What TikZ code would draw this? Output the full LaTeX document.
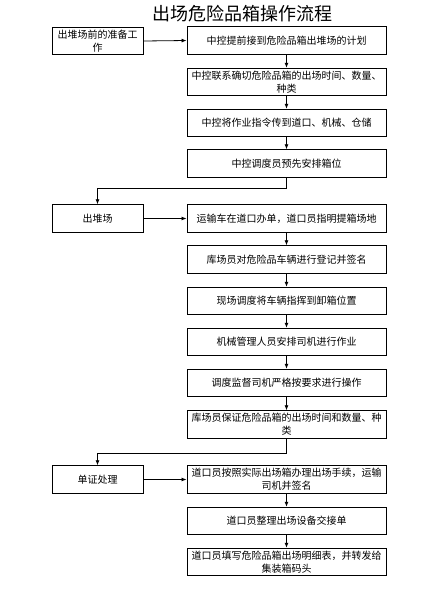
\documentclass[tikz,border=0pt]{standalone}
\usepackage{fontspec}
\newfontfamily\cjk{Noto Sans CJK SC}
\usetikzlibrary{arrows.meta, positioning}

\begin{document}
\begin{tikzpicture}[
  x=1pt, y=-1pt,
  font=\cjk\fontsize{10}{13.3}\selectfont,
  blocco/.style={draw=black, line width=0.9pt, fill=white, align=center,
                 inner sep=2pt, minimum height=27.5pt},
  passo/.style={blocco, minimum width=199pt},
  fase/.style={blocco, minimum width=91pt},
  freccia/.style={draw=black, line width=0.8pt, -{Latex[length=5pt,width=4pt]}}
]

% cornice fissa: stesse proporzioni dell'originale
\useasboundingbox (0,0) rectangle (425,592);

% ---- titolo ---------------------------------------------------------
\node[font=\cjk\fontsize{18}{20}\selectfont] (titolo) at (242.5,14) {出场危险品箱操作流程};

% ---- fasi (colonna di sinistra) ------------------------------------
\node[fase] (f1) at (97.5,41)    {出堆场前的准备工\\作};
\node[fase] (f2) at (97.5,218.5) {出堆场};
\node[fase] (f3) at (97.5,479.5) {单证处理};

% ---- passi (colonna di destra) -------------------------------------
\node[passo] (p1)  at (286.5,40.5)  {中控提前接到危险品箱出堆场的计划};
\node[passo] (p2)  at (286.5,82)    {中控联系确切危险品箱的出场时间、数量、\\种类};
\node[passo] (p3)  at (286.5,123)   {中控将作业指令传到道口、机械、仓储};
\node[passo] (p4)  at (286.5,163.5) {中控调度员预先安排箱位};
\node[passo] (p5)  at (286.5,218.5) {运输车在道口办单，道口员指明提箱场地};
\node[passo] (p6)  at (286.5,259.5) {库场员对危险品车辆进行登记并签名};
\node[passo] (p7)  at (286.5,301)   {现场调度将车辆指挥到卸箱位置};
\node[passo] (p8)  at (286.5,342)   {机械管理人员安排司机进行作业};
\node[passo] (p9)  at (286.5,383)   {调度监督司机严格按要求进行操作};
\node[passo] (p10) at (286.5,424.5) {库场员保证危险品箱的出场时间和数量、种\\类};
\node[passo] (p11) at (286.5,479.5) {道口员按照实际出场箱办理出场手续，运输\\司机并签名};
\node[passo] (p12) at (286.5,521)   {道口员整理出场设备交接单};
\node[passo] (p13) at (286.5,562)   {道口员填写危险品箱出场明细表，并转发给\\集装箱码头};

% ---- collegamenti ---------------------------------------------------
\draw[freccia] (f1.east) -- (p1.west);
\draw[freccia] (f2.east) -- (p5.west);
\draw[freccia] (f3.east) -- (p11.west);

\foreach \a/\b in {p1/p2, p2/p3, p3/p4, p5/p6, p6/p7, p7/p8,
                   p8/p9, p9/p10, p11/p12, p12/p13}
  \draw[freccia] (\a.south) -- (\b.north);

% ritorno alla colonna di sinistra
\draw[freccia] (p4.south) -- ++(0,11) -| (f2.north);
\draw[freccia] (p10.south) -- ++(0,15) -| (f3.north);

\end{tikzpicture}
\end{document}
